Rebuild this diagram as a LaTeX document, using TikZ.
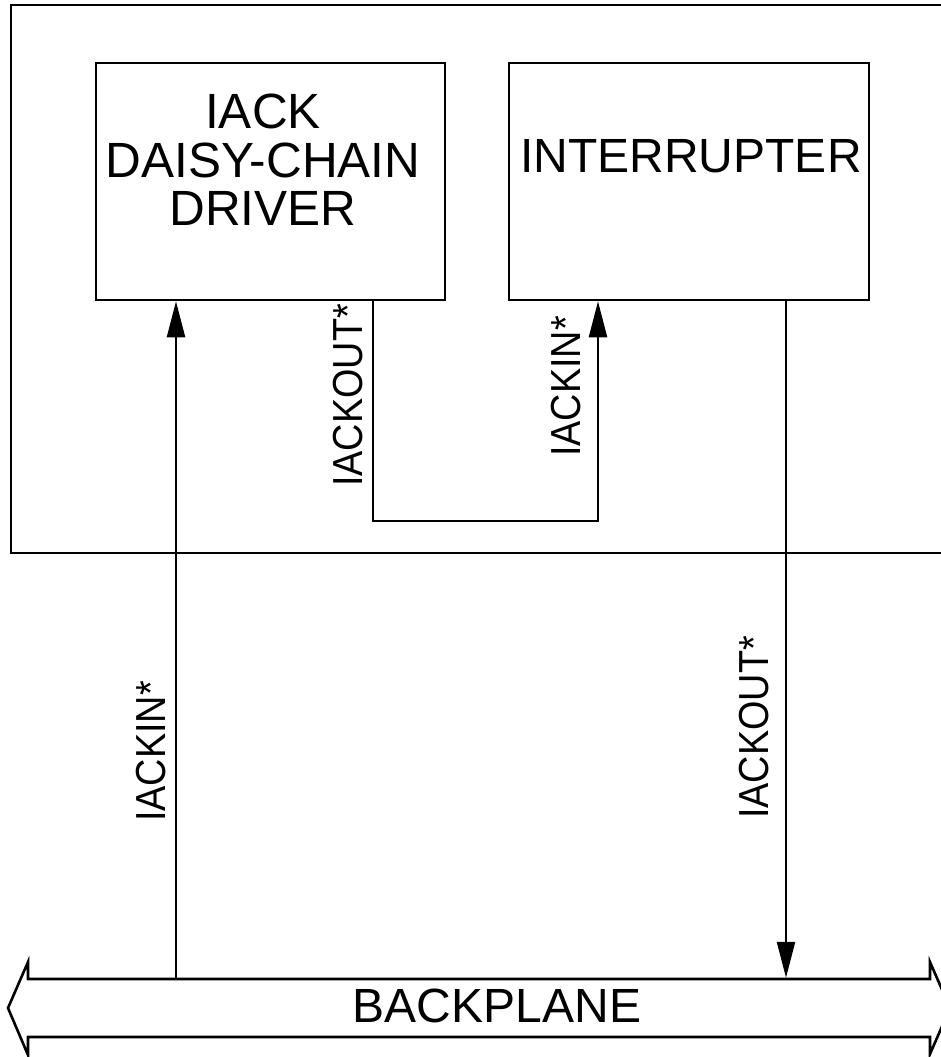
\documentclass[tikz,border=0pt]{standalone}
\usepackage{fontspec}
\setmainfont{Liberation Sans}
\usetikzlibrary{arrows.meta}
\newcommand{\narrowtxt}[1]{\scalebox{0.9}[1]{#1}}
\begin{document}
\begin{tikzpicture}[x=1pt,y=-1pt,line width=2.4pt,
  box/.style={draw,line width=2.6pt,inner sep=0pt},
  big/.style={font=\fontsize{48}{48.5}\selectfont,inner sep=0pt},
  sig/.style={font=\fontsize{42}{42}\selectfont,rotate=90,anchor=base west,inner sep=0pt},
  flow/.style={-{Triangle[length=36pt,width=18pt]},line width=2.4pt}]
\useasboundingbox (0,0) rectangle (941,1057);
% outer board
\draw[line width=2.6pt] (11,5) rectangle (965,553);
% boxes
\node[box,minimum width=349pt,minimum height=237pt] (drv) at (270.5,181.5) {};
\node[box,minimum width=360pt,minimum height=237pt] (intr) at (689,181.5) {};
\node[big,font=\fontsize{49.5}{48.5}\selectfont,align=center,anchor=north] (drvt) at (263,93) {IACK\\DAISY-CHAIN\\DRIVER};
\node[big,anchor=base] (intrt) at (691,172) {INTERRUPTER};
% backplane
\node[minimum width=902pt,minimum height=58pt,inner sep=0pt] (bp) at (479,1008) {};
\draw[line width=2.6pt] (28,979) -- (930,979) -- (930,962) -- (950,1008) -- (930,1054) -- (930,1037)
  -- (28,1037) -- (28,1055) -- (8,1008) -- (28,962) -- cycle;
\node[big,anchor=base] (bpt) at (497,1022) {BACKPLANE};
% signals
\draw[flow] (bp.north -| 176,0) -- (drv.south -| 176,0);
\draw[flow] (drv.south -| 373,0) -- (373,521) -- (598,521) -- (intr.south -| 598,0);
\draw[flow] (intr.south -| 786,0) -- (bp.north -| 786,0);
% labels
\node[sig] (l1) at (362,488) {\narrowtxt{IACKOUT*}};
\node[sig] (l2) at (580,458) {\narrowtxt{IACKIN*}};
\node[sig] (l3) at (165,823) {\narrowtxt{IACKIN*}};
\node[sig] (l4) at (768,820) {\narrowtxt{IACKOUT*}};
\end{tikzpicture}
\end{document}
